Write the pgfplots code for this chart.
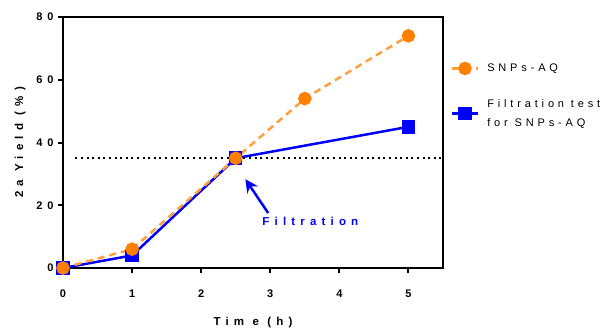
\documentclass[border=0pt]{standalone}
\usepackage{fontspec}
\setmainfont{Liberation Sans}
\newfontfamily\spb[LetterSpace=45]{Liberation Sans}
\newfontfamily\spl[LetterSpace=35]{Liberation Sans}
\usepackage{pgfplots}
\pgfplotsset{compat=1.18}
\usetikzlibrary{arrows.meta}
\definecolor{orgline}{RGB}{255,160,60}
\definecolor{orgmark}{RGB}{255,128,0}
\definecolor{pblue}{RGB}{0,0,255}
\begin{document}
\begin{tikzpicture}
\path[use as bounding box] (-63pt,-61pt) rectangle (546pt,268pt);
\begin{axis}[
  scale only axis, width=380pt, height=251pt,
  xmin=0, xmax=5.5, ymin=0, ymax=80,
  xtick={0,1,2,3,4,5}, ytick={0,20,40,60,80},
  xtick pos=bottom, ytick pos=left,
  tick align=outside, major tick length=5pt,
  every tick/.style={black, line width=2pt},
  axis line style={black, line width=2pt},
  /pgf/number format/assume math mode=true,
  ticklabel style={font=\fontsize{11}{13}\selectfont\spb\bfseries},
  xticklabel style={yshift=-13pt},
  yticklabel style={xshift=-1pt},
  xlabel={Tim e (h)}, ylabel={2a Yield (\%)},
  label style={font=\fontsize{11.5}{13}\selectfont\spb\bfseries},
  xlabel style={yshift=-13pt},
  ylabel style={yshift=4pt},
  legend style={at={(1.012,0.83)}, anchor=north west, draw=none, fill=none,
    font=\fontsize{11}{19}\selectfont\spl, row sep=22pt, column sep=6pt,
    cells={align=left}},
  legend cell align=left,
  legend image code/.code={\draw[mark repeat=2,mark phase=2] plot coordinates {(0pt,0pt) (13pt,0pt) (26pt,0pt)};},
]
\addplot[pblue, line width=2.5pt, mark=square*, mark size=5.5pt, mark options={solid, fill=pblue}, forget plot]
  coordinates {(0,0) (1,4) (2.5,35) (5,45)};
\addplot[orgline, line width=2.5pt, dash pattern=on 7pt off 5pt, mark=*, mark size=5.5pt, mark options={solid, draw=orgmark, fill=orgmark}]
  coordinates {(0,0) (1,6) (2.5,35) (3.5,54) (5,74)};
\addlegendentry{SNPs-AQ}
\addlegendimage{pblue, line width=2.5pt, mark=square*, mark size=5.5pt, mark options={solid, fill=pblue}}
\addlegendentry{Filtration test\\for SNPs-AQ}
\addplot[black, line width=2pt, dash pattern=on 2pt off 3.6pt]
  coordinates {(0.18,35) (5.5,35)};
\draw[-{Stealth[length=13pt,width=13pt]}, pblue, line width=2.5pt]
  (axis cs:2.97,17.5) -- (axis cs:2.64,28.3);
\node[pblue, font=\fontsize{11.5}{13}\selectfont\spb\bfseries] at (axis cs:3.58,15) {Filtration};
\end{axis}
\end{tikzpicture}
\end{document}
